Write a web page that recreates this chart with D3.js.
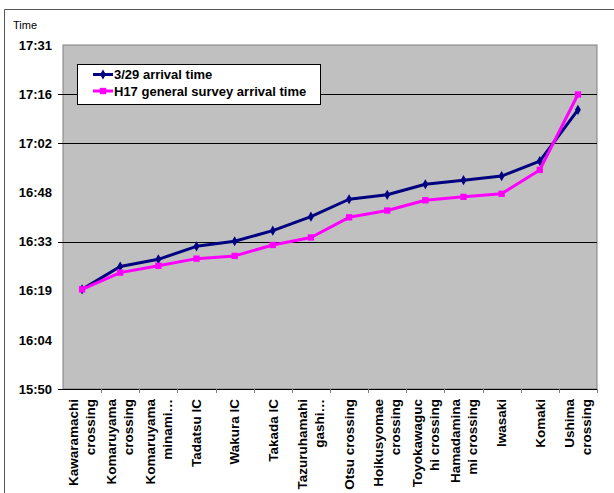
<!DOCTYPE html>
<html>
<head>
<meta charset="utf-8">
<script src="https://cdn.jsdelivr.net/npm/d3@7"></script>
<style>
  html, body { margin: 0; padding: 0; background: #fff; }
  svg { display: block; font-family: "Liberation Sans", Arial, sans-serif; }
</style>
</head>
<body>
<svg id="chart" width="614" height="493"></svg>
<script>
// Measuring points along the route (line breaks are where the label wraps)
const categories = [
  "Kawaramachi\ncrossing",
  "Komaruyama\ncrossing",
  "Komaruyama\nminami\u2026",
  "Tadatsu IC",
  "Wakura IC",
  "Takada IC",
  "Tazuruhamahi\ngashi\u2026",
  "Otsu crossing",
  "Hoikusyomae\ncrossing",
  "Toyokawaguc\nhi crossing",
  "Hamadamina\nmi crossing",
  "Iwasaki",
  "Komaki",
  "Ushima\ncrossing"
];

// Arrival times (hh:mm:ss)
const arrival329 = [
  "16:19:36", "16:26:18", "16:28:24", "16:32:12", "16:33:42", "16:36:48", "16:40:54",
  "16:46:00", "16:47:18", "16:50:24", "16:51:36", "16:52:48", "16:57:12", "17:12:12"
];
const arrivalH17 = [
  "16:19:36", "16:24:30", "16:26:30", "16:28:36", "16:29:24", "16:32:36", "16:34:48",
  "16:40:42", "16:42:42", "16:45:42", "16:46:42", "16:47:36", "16:54:36", "17:16:42"
];

const seriesNames = ["3/29 arrival time", "H17 general survey arrival time"];

// Value axis: 0.66 .. 0.73 of a day, major unit 0.01 day (14.4 min)
const yMin = "15:50:24";
const yStepMinutes = 14.4;
const yTickLabels = ["15:50", "16:04", "16:19", "16:33", "16:48", "17:02", "17:16", "17:31"];
const gridLabels = ["16:33", "17:02", "17:16"];

const toMinutes = s => {
  const p = s.split(":").map(Number);
  return p[0] * 60 + p[1] + (p[2] || 0) / 60;
};

const svg = d3.select("#chart");
const plot = { left: 63, right: 597, top: 45, bottom: 389 };

const yTickValues = yTickLabels.map((_, i) => toMinutes(yMin) + i * yStepMinutes);

const x = d3.scaleBand().domain(d3.range(categories.length))
  .range([plot.left, plot.right]).padding(0);
const y = d3.scaleLinear()
  .domain([yTickValues[0], yTickValues[yTickValues.length - 1]])
  .range([plot.bottom, plot.top]);
const cx = i => x(i) + x.bandwidth() / 2;

// outer frame of the chart area
svg.append("path")
  .attr("d", "M4.5,493V9.5H614")
  .attr("fill", "none").attr("stroke", "#555").attr("stroke-width", 1);

// plot background
svg.append("rect")
  .attr("x", plot.left).attr("y", plot.top)
  .attr("width", plot.right - plot.left).attr("height", plot.bottom - plot.top)
  .attr("fill", "#c0c0c0").attr("stroke", "#808080").attr("stroke-width", 1);

// horizontal gridlines
svg.append("g").selectAll("line")
  .data(gridLabels.map(l => yTickValues[yTickLabels.indexOf(l)]))
  .join("line")
  .attr("x1", plot.left - 5).attr("x2", plot.right)
  .attr("y1", d => Math.round(y(d)) + 0.5).attr("y2", d => Math.round(y(d)) + 0.5)
  .attr("stroke", "#000").attr("stroke-width", 1);

// y axis labels
const yAxis = d3.axisLeft(y)
  .tickValues(yTickValues)
  .tickFormat((d, i) => yTickLabels[i])
  .tickSize(0).tickPadding(11);
const gy = svg.append("g").attr("transform", `translate(${plot.left},0)`).call(yAxis);
gy.select(".domain").remove();
gy.selectAll("text")
  .attr("font-size", 13).attr("font-weight", "bold")
  .attr("font-family", "'Liberation Sans', Arial, sans-serif").attr("fill", "#000");

// x axis line and category dividers
const gx = svg.append("g");
gx.append("line")
  .attr("x1", plot.left - 5).attr("x2", plot.right)
  .attr("y1", plot.bottom + 0.5).attr("y2", plot.bottom + 0.5)
  .attr("stroke", "#000");
gx.selectAll("line.div")
  .data(d3.range(1, categories.length + 1))
  .join("line").attr("class", "div")
  .attr("x1", i => Math.round(x(i - 1) + x.bandwidth()) + 0.5)
  .attr("x2", i => Math.round(x(i - 1) + x.bandwidth()) + 0.5)
  .attr("y1", plot.bottom).attr("y2", plot.bottom + 4)
  .attr("stroke", "#808080");

// rotated category labels
const lineGap = 17;
const labels = svg.append("g").selectAll("text")
  .data(categories)
  .join("text")
  .attr("transform", (d, i) => `translate(${cx(i)},399) rotate(-90)`)
  .attr("text-anchor", "end")
  .attr("font-size", 13.5).attr("font-weight", "bold").attr("fill", "#000");
labels.each(function (d) {
  const lines = d.split("\n");
  const t = d3.select(this);
  lines.forEach((ln, k) => {
    t.append("tspan")
      .attr("x", 0)
      .attr("y", (k - (lines.length - 1) / 2) * lineGap)
      .attr("dy", "0.35em")
      .text(ln);
  });
});

// series
const series = [
  { name: seriesNames[0], values: arrival329.map(toMinutes), color: "#000080", symbol: d3.symbolDiamond, size: 30 },
  { name: seriesNames[1], values: arrivalH17.map(toMinutes), color: "#ff00ff", symbol: d3.symbolSquare, size: 40 }
];

const line = d3.line().x((d, i) => cx(i)).y(d => y(d));
series.forEach(s => {
  const g = svg.append("g");
  g.append("path")
    .attr("d", line(s.values))
    .attr("fill", "none").attr("stroke", s.color)
    .attr("stroke-width", 3).attr("stroke-linejoin", "round");
  g.selectAll("path.pt")
    .data(s.values)
    .join("path").attr("class", "pt")
    .attr("transform", (d, i) => `translate(${cx(i)},${y(d)})`)
    .attr("d", d3.symbol().type(s.symbol).size(s.size))
    .attr("fill", s.color);
});

// legend
const legend = svg.append("g");
legend.append("rect")
  .attr("x", 77.5).attr("y", 64.5).attr("width", 243).attr("height", 40)
  .attr("fill", "#fff").attr("stroke", "#000");
series.forEach((s, k) => {
  const ly = 74.5 + k * 16.5;
  legend.append("line")
    .attr("x1", 93).attr("x2", 113).attr("y1", ly).attr("y2", ly)
    .attr("stroke", s.color).attr("stroke-width", 3);
  legend.append("path")
    .attr("transform", `translate(103,${ly})`)
    .attr("d", d3.symbol().type(s.symbol).size(s.size))
    .attr("fill", s.color);
  legend.append("text")
    .attr("x", 114).attr("y", ly).attr("dy", "0.36em")
    .attr("font-size", 13).attr("font-weight", "bold").attr("fill", "#000")
    .text(s.name);
});

// value axis title
svg.append("text")
  .attr("x", 13).attr("y", 29)
  .attr("font-size", 11).attr("fill", "#000")
  .text("Time");
</script>
</body>
</html>
